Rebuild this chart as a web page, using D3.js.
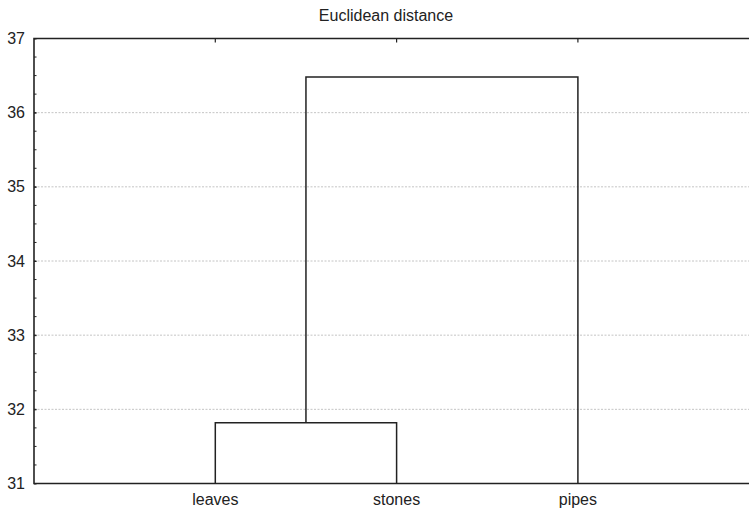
<!DOCTYPE html>
<html>
<head>
<meta charset="utf-8">
<script src="https://cdn.jsdelivr.net/npm/d3@7"></script>
<style>
  html, body { margin: 0; padding: 0; background: #fff; }
  svg { display: block; }
  text { font-family: "Liberation Sans", Arial, sans-serif; fill: #222; }
</style>
</head>
<body>
<svg id="chart" width="749" height="511"></svg>
<script>
// ---- data ----
const title = "Euclidean distance";
const leafLabels = ["leaves", "stones", "pipes"];
// merges: node ids 0..2 are leaves, 3.. are clusters in merge order
const mergeLeft = [0, 3];
const mergeRight = [1, 2];
const mergeHeight = [31.82, 36.48];
const yTicks = [31, 32, 33, 34, 35, 36, 37];
const yMinorStep = 0.25;

// ---- layout ----
const plotLeft = 34, plotTop = 38.5, plotBottom = 483.5;
const spacing = 181.3;
const plotRight = plotLeft + spacing * (leafLabels.length + 1);

const svg = d3.select("#chart");

const x = d3.scaleLinear().domain([0, leafLabels.length + 1]).range([plotLeft, plotRight]);
const y = d3.scaleLinear().domain([31, 37]).range([plotBottom, plotTop]);

// grid lines
svg.append("g").selectAll("line")
  .data(yTicks.filter(t => t > 31 && t < 37))
  .join("line")
  .attr("x1", plotLeft).attr("x2", plotRight)
  .attr("y1", d => y(d)).attr("y2", d => y(d))
  .attr("stroke", "#c4c4c4").attr("stroke-width", 1)
  .attr("stroke-dasharray", "2,1.5");

// left axis with labels
const yAxis = d3.axisLeft(y).tickValues(yTicks).tickSize(-2.5).tickPadding(9).tickFormat(d3.format("d"));
const gy = svg.append("g").attr("transform", `translate(${plotLeft},0)`).call(yAxis);
gy.select(".domain").remove();
gy.selectAll(".tick line").attr("stroke", "#222");
gy.selectAll(".tick text").style("font-size", "16px").attr("fill", "#222")
  .style("font-family", "'Liberation Sans', Arial, sans-serif");

// minor ticks
const minor = d3.range(31, 37 + 1e-9, yMinorStep);
svg.append("g").selectAll("line").data(minor).join("line")
  .attr("x1", plotLeft).attr("x2", plotLeft + 2.5)
  .attr("y1", d => y(d)).attr("y2", d => y(d))
  .attr("stroke", "#222").attr("stroke-width", 1);

// top axis ticks at leaf positions
svg.append("g").selectAll("line").data(leafLabels).join("line")
  .attr("x1", (d, i) => x(i + 1)).attr("x2", (d, i) => x(i + 1))
  .attr("y1", plotTop).attr("y2", plotTop + 4)
  .attr("stroke", "#222").attr("stroke-width", 1.2);

// frame (left, top, bottom)
svg.append("path")
  .attr("d", `M${plotRight},${plotTop}H${plotLeft}V${plotBottom}H${plotRight}`)
  .attr("fill", "none").attr("stroke", "#222").attr("stroke-width", 1.6);

// dendrogram
const nodeX = leafLabels.map((d, i) => x(i + 1));
const nodeH = leafLabels.map(() => 31);
mergeHeight.forEach((h, k) => {
  const a = mergeLeft[k], b = mergeRight[k];
  const xa = nodeX[a], xb = nodeX[b];
  svg.append("path")
    .attr("d", `M${xa},${y(nodeH[a])}V${y(h)}H${xb}V${y(nodeH[b])}`)
    .attr("fill", "none").attr("stroke", "#222").attr("stroke-width", 1.5);
  nodeX.push((xa + xb) / 2);
  nodeH.push(h);
});

// leaf labels
svg.append("g").selectAll("text").data(leafLabels).join("text")
  .attr("x", (d, i) => x(i + 1)).attr("y", 505)
  .attr("text-anchor", "middle")
  .style("font-size", "16px")
  .text(d => d);

// title
svg.append("text")
  .attr("x", 386).attr("y", 21)
  .attr("text-anchor", "middle")
  .style("font-size", "16px")
  .text(title);
</script>
</body>
</html>
